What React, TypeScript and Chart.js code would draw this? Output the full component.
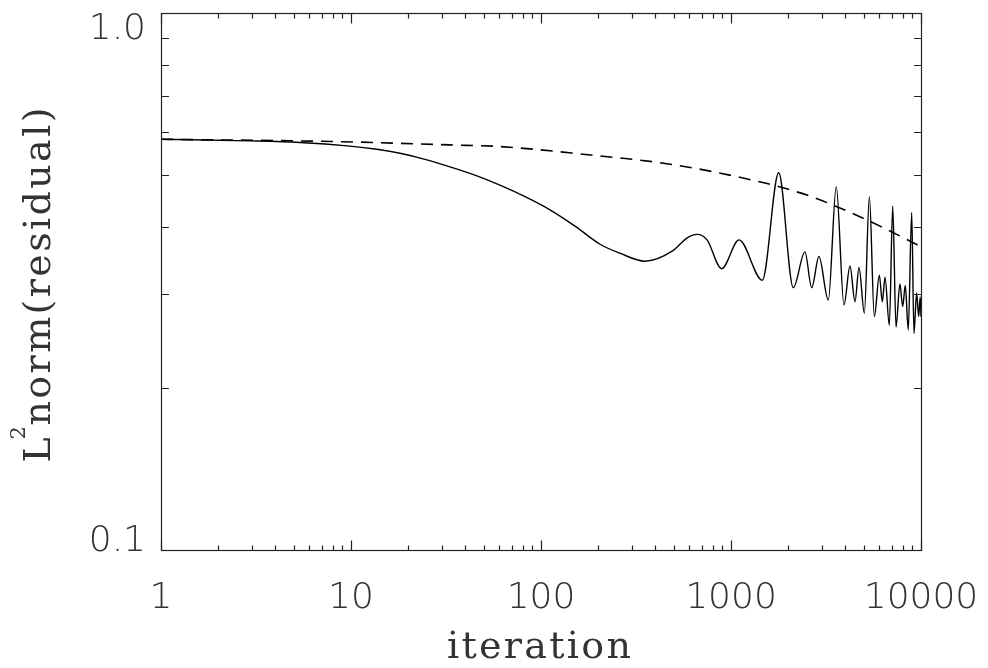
import React, { useEffect, useRef } from "react";
import { Chart, registerables } from "chart.js";

Chart.register(...registerables);

// ---- data ----
const solidX = [1, 2.94, 5.39, 9.88, 13.4, 18.1, 24.5, 33.2, 44.9, 60.8, 82.4, 111.5, 151, 204.5, 260, 352, 495, 586, 662, 748, 893, 1102, 1461, 1783, 2128, 2450, 2659, 2904, 3251, 3581, 3934, 4228, 4493, 4718, 5033, 5349, 5681, 6036, 6258, 6465, 6813, 7099, 7387, 7745, 8010, 8265, 8570, 8933, 9183, 9483, 9722, 9906, 10000];
const solidY = [0.582, 0.578, 0.574, 0.565, 0.558, 0.548, 0.534, 0.517, 0.499, 0.478, 0.455, 0.43, 0.401, 0.371, 0.357, 0.345, 0.361, 0.381, 0.387, 0.378, 0.334, 0.378, 0.318, 0.504, 0.308, 0.359, 0.308, 0.352, 0.292, 0.475, 0.286, 0.338, 0.29, 0.336, 0.276, 0.455, 0.272, 0.325, 0.29, 0.322, 0.262, 0.437, 0.26, 0.313, 0.284, 0.311, 0.257, 0.425, 0.253, 0.301, 0.272, 0.296, 0.272];

const dashedX = [1, 8.75, 33, 61, 182, 411, 684, 1413, 1746, 2601, 3886, 6085, 10000];
const dashedY = [0.582, 0.576, 0.568, 0.564, 0.544, 0.527, 0.512, 0.485, 0.476, 0.456, 0.431, 0.401, 0.367];

const xMajorTicks = [1, 10, 100, 1000, 10000];
const xTickLabels = ["1", "10", "100", "1000", "10000"];
const xMinorMultipliers = [2, 3, 4, 5, 6, 7, 8, 9];
const yMajorTicks = [0.1, 1.0];
const yTickLabels = ["0.1", "1.0"];
const yMinorTicks = [0.2, 0.3, 0.4, 0.5, 0.6, 0.7, 0.8, 0.9];

const xTitle = "iteration";
const yTitleMain = "L";
const yTitleSup = "2";
const yTitleRest = "norm(residual)";

const TITLE_FONT = '38px "DejaVu Serif", "Liberation Serif", serif';
const SUP_FONT = '21px "DejaVu Serif", "Liberation Serif", serif';

function drawSpaced(ctx: any, text: string, x: number, y: number, targetWidth: number) {
  ctx.textAlign = "left";
  const w0 = ctx.measureText(text).width;
  const ls = (targetWidth - w0) / Math.max(1, text.length - 1);
  if ("letterSpacing" in ctx) {
    ctx.letterSpacing = ls + "px";
    ctx.fillText(text, x, y);
    ctx.letterSpacing = "0px";
  } else {
    ctx.save();
    ctx.translate(x, y);
    ctx.scale(targetWidth / w0, 1);
    ctx.fillText(text, 0, 0);
    ctx.restore();
  }
}

const framePlugin = {
  id: "idlFrame",
  afterDraw(chart: any) {
    const { ctx, chartArea: a, scales } = chart;
    const xs = scales.x;
    const ys = scales.y;
    ctx.save();
    ctx.strokeStyle = "#222";
    ctx.lineWidth = 1.2;
    ctx.strokeRect(a.left + 0.5, a.top + 0.5, a.right - a.left, a.bottom - a.top);

    const xMajLen = 10, xMinLen = 5, yMajLen = 15, yMinLen = 7.5;
    ctx.beginPath();
    const xTick = (v: number, len: number) => {
      const p = Math.round(xs.getPixelForValue(v)) + 0.5;
      ctx.moveTo(p, a.bottom + 0.5);
      ctx.lineTo(p, a.bottom + 0.5 - len);
      ctx.moveTo(p, a.top + 0.5);
      ctx.lineTo(p, a.top + 0.5 + len);
    };
    const yTick = (v: number, len: number) => {
      const p = Math.round(ys.getPixelForValue(v)) + 0.5;
      ctx.moveTo(a.left + 0.5, p);
      ctx.lineTo(a.left + 0.5 + len, p);
      ctx.moveTo(a.right + 0.5, p);
      ctx.lineTo(a.right + 0.5 - len, p);
    };
    xMajorTicks.forEach((v, i) => {
      xTick(v, xMajLen);
      if (i < xMajorTicks.length - 1) xMinorMultipliers.forEach((m) => xTick(v * m, xMinLen));
    });
    yMajorTicks.forEach((v) => yTick(v, yMajLen));
    yMinorTicks.forEach((v) => yTick(v, yMinLen));
    ctx.stroke();

    // tick labels
    ctx.fillStyle = "#333";
    ctx.font = '300 36px "DejaVu Sans"';
    ctx.textAlign = "center";
    ctx.textBaseline = "alphabetic";
    xMajorTicks.forEach((v, i) => {
      ctx.fillText(xTickLabels[i], xs.getPixelForValue(v), a.bottom + 58);
    });
    ctx.textAlign = "right";
    const capH = 26;
    yMajorTicks.forEach((v, i) => {
      let base = ys.getPixelForValue(v) + capH / 2;
      if (base - capH < a.top) base = a.top + capH;
      if (base > a.bottom + 1) base = a.bottom + 1;
      ctx.fillText(yTickLabels[i], a.left - 15, base);
    });

    // x title
    ctx.fillStyle = "#333";
    ctx.font = TITLE_FONT;
    const cxMid = (a.left + a.right) / 2;
    drawSpaced(ctx, xTitle, cxMid - 94, 658, 184);

    // y title (rotated)
    ctx.save();
    ctx.translate(50, (a.top + a.bottom) / 2 + 181);
    ctx.rotate(-Math.PI / 2);
    ctx.font = TITLE_FONT;
    ctx.textAlign = "left";
    ctx.fillText(yTitleMain, 0, 0);
    ctx.font = SUP_FONT;
    ctx.fillText(yTitleSup, 23, -25);
    ctx.font = TITLE_FONT;
    drawSpaced(ctx, yTitleRest, 37, 0, 318);
    ctx.restore();

    ctx.restore();
  },
};

export default function App() {
  const ref = useRef<HTMLCanvasElement | null>(null);
  useEffect(() => {
    if (!ref.current) return;
    const chart = new Chart(ref.current, {
      type: "line",
      data: {
        datasets: [
          {
            label: "residual",
            data: solidX.map((x, i) => ({ x, y: solidY[i] })),
            borderColor: "#000",
            borderWidth: 1.4,
            pointRadius: 0,
            fill: false,
            cubicInterpolationMode: "monotone",
          },
          {
            label: "envelope",
            data: dashedX.map((x, i) => ({ x, y: dashedY[i] })),
            borderColor: "#000",
            borderWidth: 1.6,
            borderDash: [12, 8],
            pointRadius: 0,
            fill: false,
            cubicInterpolationMode: "monotone",
          },
        ],
      },
      options: {
        animation: false,
        responsive: false,
        maintainAspectRatio: false,
        layout: { padding: { left: 161, top: 13, right: 67, bottom: 118 } },
        plugins: { legend: { display: false }, tooltip: { enabled: false } },
        scales: {
          x: { type: "logarithmic", min: 1, max: 10000, display: false },
          y: { type: "logarithmic", min: 0.1, max: 1.0, display: false },
        },
      },
      plugins: [framePlugin],
    });
    return () => chart.destroy();
  }, []);
  return (
    <div style={{ position: "fixed", left: 0, top: 0, width: 988, height: 668, background: "#fff" }}>
      <canvas ref={ref} width={988} height={668} style={{ width: 988, height: 668, display: "block" }} />
    </div>
  );
}
